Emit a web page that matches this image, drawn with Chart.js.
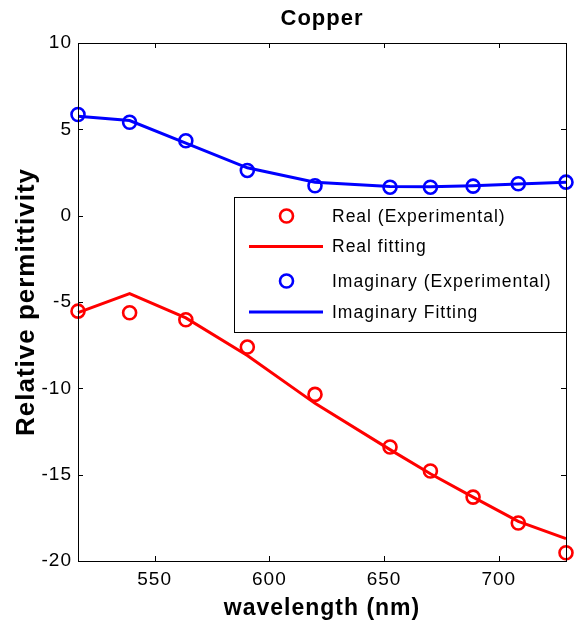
<!DOCTYPE html>
<html>
<head>
<meta charset="utf-8">
<script src="https://cdn.jsdelivr.net/npm/chart.js@4.4.1/dist/chart.umd.min.js"></script>
<style>
  html, body { margin: 0; padding: 0; background: #fff; }
  #wrap { width: 576px; height: 630px; }
</style>
</head>
<body>
<div id="wrap"><canvas id="c" width="576" height="630"></canvas></div>
<script>
// Copper permittivity, photon energies 2.4 ... 1.7 eV
const wavelengths = [516.6, 539.1, 563.6, 590.4, 619.9, 652.6, 670.2, 688.8, 708.5, 729.3];
const realExp  = [-5.53, -5.62, -6.03, -7.61, -10.35, -13.40, -14.79, -16.30, -17.80, -19.52];
const realFit  = [-5.62, -4.52, -5.92, -8.10, -10.87, -13.55, -14.95, -16.30, -17.70, -18.70];
const imagExp  = [5.86, 5.41, 4.34, 2.62, 1.73, 1.65, 1.65, 1.71, 1.85, 1.94];
const imagFit  = [5.76, 5.51, 4.20, 2.77, 1.94, 1.69, 1.67, 1.73, 1.83, 1.94];
const xTicks = [550, 600, 650, 700];
const yTicks = [-20, -15, -10, -5, 0, 5, 10];
const seriesNames = ['Real (Experimental)', 'Real fitting', 'Imaginary (Experimental)', 'Imaginary Fitting'];

const FONT = "'Liberation Sans', Arial, Helvetica, sans-serif";
const RED = '#ff0000', BLUE = '#0000ff';

const pts = ys => wavelengths.map((x, i) => ({ x, y: ys[i] }));

function markers(label, ys, color) {
  return {
    label, data: pts(ys), showLine: false, clip: false,
    pointStyle: 'circle', pointRadius: 6.5, pointHoverRadius: 6.5,
    pointBorderWidth: 2.6, pointBackgroundColor: 'rgba(0,0,0,0)',
    pointBorderColor: color, borderColor: color,
  };
}
function fitLine(label, ys, color) {
  return {
    label, data: pts(ys), showLine: true, clip: false,
    borderColor: color, borderWidth: 3, pointRadius: 0, tension: 0,
  };
}

// slightly wider letter spacing for all text on the canvas
const spacing = {
  id: 'spacing',
  beforeDraw(chart) { chart.ctx.letterSpacing = '1px'; }
};

// inward ticks on all four sides, plus the axes box
const boxTicks = {
  id: 'boxTicks',
  afterDraw(chart) {
    const { ctx, chartArea: a, scales: { x, y } } = chart;
    const len = 5;
    ctx.save();
    ctx.strokeStyle = '#000';
    ctx.lineWidth = 1;
    ctx.strokeRect(a.left + 0.5, a.top + 0.5, a.right - a.left, a.bottom - a.top);
    ctx.beginPath();
    xTicks.forEach(v => {
      const px = Math.round(x.getPixelForValue(v)) + 0.5;
      ctx.moveTo(px, a.bottom); ctx.lineTo(px, a.bottom - len);
      ctx.moveTo(px, a.top); ctx.lineTo(px, a.top + len);
    });
    yTicks.forEach(v => {
      const py = Math.round(y.getPixelForValue(v)) + 0.5;
      ctx.moveTo(a.left, py); ctx.lineTo(a.left + len, py);
      ctx.moveTo(a.right, py); ctx.lineTo(a.right - len, py);
    });
    ctx.stroke();
    // title
    ctx.fillStyle = '#000';
    ctx.font = `bold 22px ${FONT}`;
    ctx.textAlign = 'center';
    ctx.textBaseline = 'middle';
    ctx.fillText('Copper', (a.left + a.right) / 2, 19);
    ctx.restore();
  }
};

// legend box inside the axes, upper right
const insideLegend = {
  id: 'insideLegend',
  afterDraw(chart) {
    const { ctx, chartArea: a } = chart;
    const right = a.right, left = a.right - 332, top = a.top + 154, bottom = a.top + 289;
    ctx.save();
    ctx.fillStyle = '#fff';
    ctx.fillRect(left, top, right - left, bottom - top);
    ctx.strokeStyle = '#000';
    ctx.lineWidth = 1;
    ctx.strokeRect(left + 0.5, top + 0.5, right - left, bottom - top);
    const rowY = [top + 19, top + 49.5, top + 84, top + 115];
    const sx0 = left + 15, sx1 = left + 89, mx = left + 52.5, tx = left + 98;
    chart.data.datasets.forEach((ds, i) => {
      const yy = rowY[i];
      if (ds.showLine) {
        ctx.strokeStyle = ds.borderColor;
        ctx.lineWidth = 3;
        ctx.beginPath();
        ctx.moveTo(sx0, yy); ctx.lineTo(sx1, yy);
        ctx.stroke();
      } else {
        ctx.strokeStyle = ds.pointBorderColor;
        ctx.lineWidth = 2.6;
        ctx.beginPath();
        ctx.arc(mx, yy, 6.5, 0, Math.PI * 2);
        ctx.stroke();
      }
      ctx.fillStyle = '#000';
      ctx.font = `17.5px ${FONT}`;
      ctx.textAlign = 'left';
      ctx.textBaseline = 'middle';
      ctx.fillText(ds.label, tx, yy + 1);
    });
    ctx.restore();
  }
};

new Chart(document.getElementById('c'), {
  type: 'scatter',
  data: {
    datasets: [
      markers(seriesNames[0], realExp, RED),
      fitLine(seriesNames[1], realFit, RED),
      markers(seriesNames[2], imagExp, BLUE),
      fitLine(seriesNames[3], imagFit, BLUE),
    ],
  },
  options: {
    responsive: false,
    animation: false,
    layout: { padding: { top: 43, right: 10, left: 0, bottom: 0 } },
    plugins: { legend: { display: false }, tooltip: { enabled: false } },
    scales: {
      x: {
        type: 'linear',
        min: wavelengths[0],
        max: wavelengths[wavelengths.length - 1],
        afterBuildTicks: s => { s.ticks = xTicks.map(v => ({ value: v })); },
        afterFit: s => { s.height = 69; },
        grid: { display: false, drawTicks: false },
        border: { display: false },
        ticks: { color: '#000', padding: 7, font: { family: FONT, size: 19 }, maxRotation: 0 },
        title: {
          display: true, text: 'wavelength (nm)', color: '#000',
          font: { family: FONT, size: 23, weight: 'bold' }, padding: { top: 0, bottom: 8 },
        },
      },
      y: {
        min: -20,
        max: 10,
        afterBuildTicks: s => { s.ticks = yTicks.map(v => ({ value: v })); },
        afterFit: s => { s.width = 78; },
        grid: { display: false, drawTicks: false },
        border: { display: false },
        ticks: { color: '#000', padding: 6, font: { family: FONT, size: 19 } },
        title: {
          display: true, text: 'Relative permittivity', color: '#000',
          font: { family: FONT, size: 26, weight: 'bold' }, padding: { top: 11, bottom: 0 },
        },
      },
    },
  },
  plugins: [spacing, boxTicks, insideLegend],
});
</script>
</body>
</html>
